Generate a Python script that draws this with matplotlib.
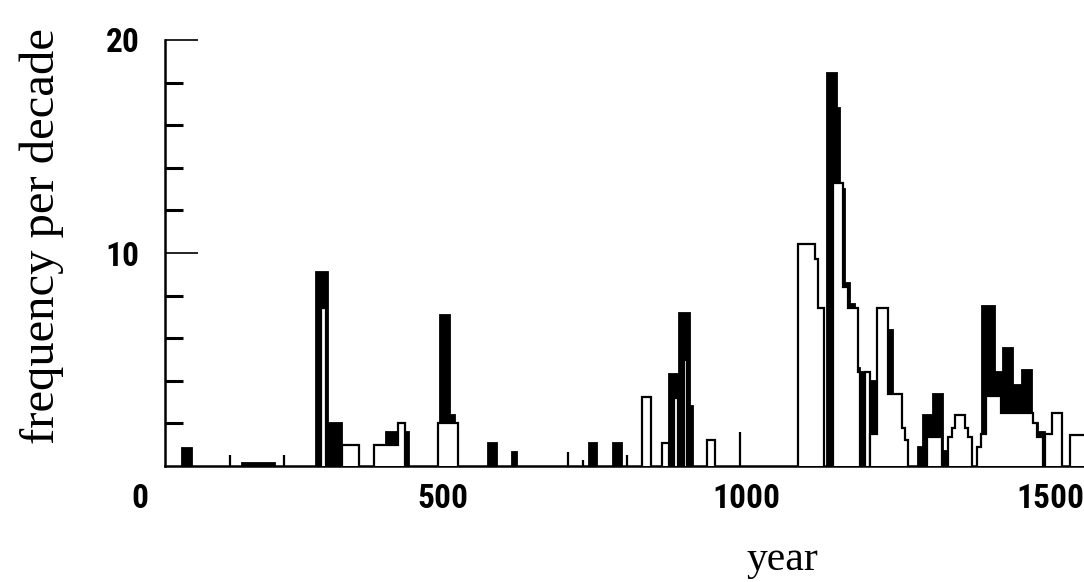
import matplotlib
matplotlib.use("Agg")
import matplotlib.pyplot as plt
from matplotlib.ticker import FixedLocator

# black (filled) histogram: bin edges in years and heights per run
black_edges = [
    [69, 85],
    [168, 222],
    [290, 310, 333],
    [405, 443],
    [495, 511, 520],
    [574, 588],
    [613, 621],
    [740, 753],
    [780, 794],
    [872, 888, 906, 911],
    [1132, 1149, 1154, 1162, 1170, 1178, 1187, 1198, 1220, 1241],
    [1282, 1291, 1307, 1324, 1334],
    [1388, 1409, 1422, 1439, 1454, 1470, 1480, 1492],
]
black_heights = [
    [0.85],
    [0.12],
    [9.1, 2.0],
    [1.6],
    [7.1, 2.4],
    [1.1],
    [0.65],
    [1.1],
    [1.1],
    [4.3, 7.2, 2.8],
    [18.45, 16.8, 13.0, 8.6, 7.6, 4.6, 4.4, 4.0, 6.4],
    [0.9, 2.4, 3.4, 0.7],
    [7.5, 4.4, 5.55, 3.8, 4.5, 2.0, 1.6],
]

# open (white) histogram drawn over the black one
open_edges = [
    [299, 307],
    [333, 361],
    [386, 425, 437],
    [491, 524],
    [827, 842],
    [860, 872],
    [881, 886],
    [896, 902],
    [935, 948],
    [1085, 1113, 1117, 1127],
    [1142, 1159, 1167, 1183, 1187],
    [1195, 1204],
    [1204, 1215, 1233, 1256, 1261, 1266],
    [1297, 1322],
    [1332, 1338, 1343, 1360, 1365, 1371],
    [1379, 1386, 1394, 1420, 1472, 1478, 1488],
    [1492, 1503, 1520],
    [1533, 1560],
]
open_heights = [
    [7.4],
    [1.0],
    [1.0, 2.0],
    [2.0],
    [3.25],
    [1.1],
    [3.2],
    [5.0],
    [1.2],
    [10.4, 9.7, 7.4],
    [13.3, 8.4, 7.4, 4.4],
    [4.4],
    [1.5, 7.4, 3.4, 1.8, 1.2],
    [1.35],
    [1.35, 1.8, 2.4, 1.8, 1.35],
    [0.9, 1.5, 3.3, 2.5, 2.0, 1.35],
    [1.5, 2.5],
    [1.45],
]

# single-year spikes
spike_years = [148, 237, 705, 730, 803, 989]
spike_heights = [0.5, 0.5, 0.65, 0.3, 0.5, 1.6]

tick_font = ['Roboto Condensed', 'Liberation Sans']
label_font = ['Liberation Serif', 'DejaVu Serif']

fig = plt.figure(figsize=(10.84, 5.82), dpi=100)
ax = fig.add_axes([140/1084, 116/582, 944/1084, 426/582])

for e, h in zip(black_edges, black_heights):
    ax.stairs(h, e, fill=True, facecolor='black', edgecolor='black', linewidth=1.3, zorder=2)
for e, h in zip(open_edges, open_heights):
    ax.stairs(h, e, fill=True, facecolor='white', edgecolor='black', linewidth=1.6, zorder=3)
ax.vlines(spike_years, 0, spike_heights, color='black', linewidth=1.6, zorder=4)

ax.set_xlim(0, 1556)
ax.set_ylim(0, 20)
ax.spines['top'].set_visible(False)
ax.spines['right'].set_visible(False)
ax.spines['left'].set_position(('data', 41))
ax.spines['left'].set_bounds(0, 20)
ax.spines['bottom'].set_bounds(41, 1556)
ax.spines['left'].set_linewidth(1.8)
ax.spines['bottom'].set_linewidth(1.8)

ax.set_yticks([10, 20])
ax.yaxis.set_minor_locator(FixedLocator([2, 4, 6, 8, 12, 14, 16, 18]))
ax.tick_params(axis='y', which='major', direction='in', length=24, width=1.2, pad=18)
ax.tick_params(axis='y', which='minor', direction='in', length=13, width=2.2)
ax.set_xticks([0, 500, 1000, 1500])
ax.tick_params(axis='x', length=0, pad=12)

for lab in ax.get_yticklabels():
    lab.set_fontfamily(tick_font)
    lab.set_fontsize(24)
    lab.set_fontweight('bold')
for lab in ax.get_xticklabels():
    lab.set_fontfamily(tick_font)
    lab.set_fontsize(24)
    lab.set_fontweight('bold')

ax.set_ylabel('frequency per decade', family=label_font, fontsize=35, va='center')
ax.yaxis.set_label_coords(-0.104, 0.54)
ax.set_xlabel('year', family=label_font, fontsize=30, va='center')
ax.xaxis.set_label_coords(0.68, -0.22)

fig.savefig('out.png', dpi=100)
